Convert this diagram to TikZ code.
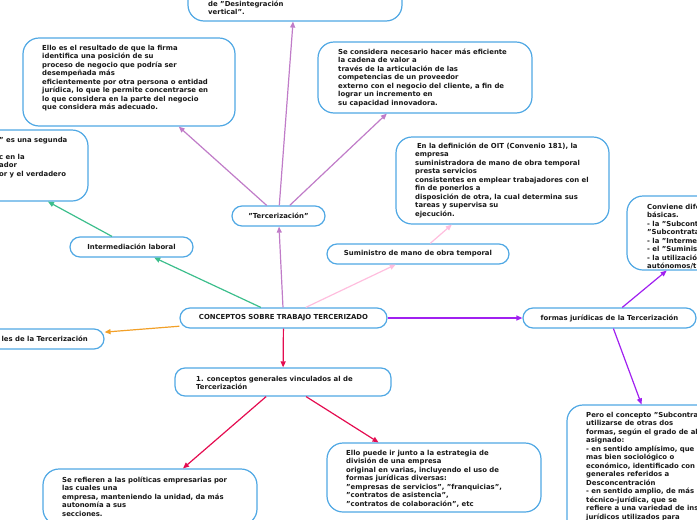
\documentclass[tikz,border=0pt]{standalone}
\usepackage{fontspec}
\setmainfont{DejaVu Sans}
\usetikzlibrary{arrows.meta}
\definecolor{boxc}{RGB}{80,168,228}
\definecolor{txtc}{RGB}{25,25,25}
\definecolor{lav}{RGB}{192,124,200}
\definecolor{grn}{RGB}{60,190,140}
\definecolor{pnk}{RGB}{255,190,222}
\definecolor{org}{RGB}{242,160,40}
\definecolor{vio}{RGB}{160,32,240}
\definecolor{crm}{RGB}{228,12,80}
\newcommand\mmlines[1]{\begin{tabular}[t]{@{}l@{}}#1\end{tabular}}
\begin{document}
\begin{tikzpicture}[x=1pt,y=-1pt,
  every node/.style={font=\fontsize{6.9}{8.5}\selectfont\bfseries, text=txtc},
  pill/.style={draw=boxc, line width=1.2pt, rounded corners=10pt, fill=white, inner sep=0pt, minimum height=20pt},
  bigbox/.style={draw=boxc, line width=1.2pt, rounded corners=16pt, fill=white, inner sep=0pt},
  txt/.style={anchor=base west, inner sep=0pt},
  conn/.style={line width=1.2pt, -{Triangle[length=6pt,width=5pt]}},
]
\useasboundingbox (0,0) rectangle (697,520);
\clip (0,0) rectangle (697,520);

% single-line nodes
\node[pill, minimum width=207pt] (root) at (283.5,318) {CONCEPTOS SOBRE TRABAJO TERCERIZADO};
\node[pill, minimum width=93pt] (terc) at (278.5,216) {"Tercerización"};
\node[pill, minimum width=123pt] (inter) at (131.5,247) {Intermediación laboral};
\node[pill, minimum width=182pt] (sumi) at (418,254) {Suministro de mano de obra temporal};
\node[pill, minimum width=174pt] (asp) at (17,339) {};
\node[txt, anchor=east] (aspt) at (88,339) {les de la Tercerización};
\node[pill, minimum width=173pt] (formas) at (609.5,318) {formas jurídicas de la Tercerización};
\node[pill, minimum width=216pt, minimum height=28pt] (conc) at (283,382) {};
\node[txt] (conct) at (196,381.2) {\mmlines{1. conceptos generales vinculados al de\\Tercerización}};

% big boxes
\node[bigbox, minimum width=214pt, minimum height=51pt] (top) at (295,-4.5) {};
\node[txt] (topt) at (208,6.2) {\mmlines{de "Desintegración\\vertical".}};

\node[bigbox, minimum width=212pt, minimum height=88pt] (ello) at (129,82) {};
\node[txt] (ellot) at (42,50.2) {\mmlines{Ello es el resultado de que la firma\\identifica una posición de su\\proceso de negocio que podría ser\\desempeñada más\\eficientemente por otra persona o entidad\\jurídica, lo que le permite concentrarse en\\lo que considera en la parte del negocio\\que considera más adecuado.}};

\node[bigbox, minimum width=214pt, minimum height=71pt] (secons) at (425,77.5) {};
\node[txt] (seconst) at (338,54.2) {\mmlines{Se considera necesario hacer más eficiente\\la cadena de valor a\\través de la articulación de las\\competencias de un proveedor\\externo con el negocio del cliente, a fin de\\lograr un incremento en\\su capacidad innovadora.}};

\node[bigbox, minimum width=213pt, minimum height=71pt] (leftc) at (-18.5,165.5) {};
\node[txt] (leftct) at (-1,142.2) {\mmlines{" es una segunda\\ \\c en la\\ador\\or y el verdadero}};

\node[bigbox, minimum width=213pt, minimum height=87pt] (oit) at (502.5,180.5) {};
\node[txt] (oitt) at (415,148.2) {\mmlines{\hspace*{1.8pt}En la definición de OIT (Convenio 181), la\\empresa\\suministradora de mano de obra temporal\\presta servicios\\consistentes en emplear trabajadores con el\\fin de ponerlos a\\disposición de otra, la cual determina sus\\tareas y supervisa su\\ejecución.}};

\node[bigbox, minimum width=170pt, minimum height=74pt] (conv) at (712,233) {};
\node[txt] (convt) at (647,209.2) {\mmlines{Conviene dife\\básicas.\\- la "Subcont\\"Subcontrata\\- la "Interme\\- el "Suminis\\- la utilizació\\autónomos/t}};

\node[bigbox, minimum width=214pt, minimum height=56pt] (refi) at (150,497) {};
\node[txt] (refit) at (62,482.2) {\mmlines{Se refieren a las políticas empresarias por\\las cuales una\\empresa, manteniendo la unidad, da más\\autonomía a sus\\secciones.}};

\node[bigbox, minimum width=214pt, minimum height=69pt] (puede) at (434,477.5) {};
\node[txt] (puedet) at (346,455.2) {\mmlines{Ello puede ir junto a la estrategia de\\división de una empresa\\original en varias, incluyendo el uso de\\formas jurídicas diversas:\\"empresas de servicios", "franquicias",\\"contratos de asistencia",\\"contratos de colaboración", etc}};

\node[bigbox, minimum width=213pt, minimum height=172pt] (pero) at (673.5,491) {};
\node[txt] (perot) at (586,417.2) {\mmlines{Pero el concepto "Subcontra\\utilizarse de otras dos\\formas, según el grado de al\\asignado:\\- en sentido amplísimo, que\\mas bien sociológico o\\económico, identificado con\\generales referidos a\\Desconcentración\\- en sentido amplio, de más\\técnico-jurídica, que se\\refiere a una variedad de ins\\jurídicos utilizados para}};

% connectors
\draw[conn, lav] (root) -- (terc);
\draw[conn, lav] (terc) -- (top);
\draw[conn, lav] (terc) -- (ello);
\draw[conn, lav] (terc) -- (secons);
\draw[conn, grn] (root) -- (inter);
\draw[conn, grn] (inter) -- (leftc);
\draw[conn, pnk] (root) -- (sumi);
\draw[conn, pnk] (sumi) -- (oit);
\draw[conn, org] (root) -- (asp);
\draw[conn, vio] (root) -- (formas);
\draw[conn, vio] (formas) -- (conv);
\draw[conn, vio] (formas) -- (pero);
\draw[conn, crm] (root) -- (conc);
\draw[conn, crm] (conc) -- (refi);
\draw[conn, crm] (conc) -- (puede);
\end{tikzpicture}
\end{document}
